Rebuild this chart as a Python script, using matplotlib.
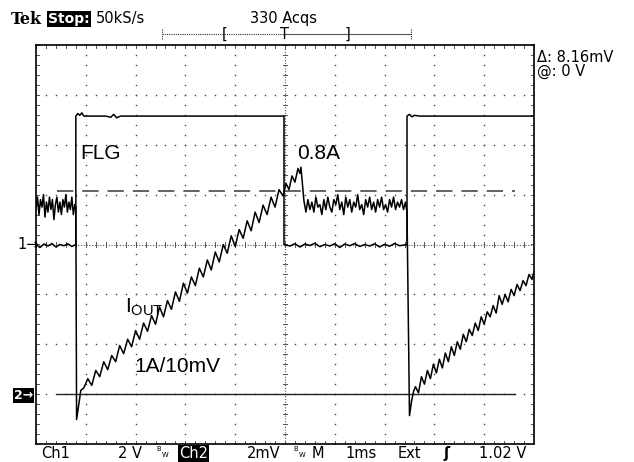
import numpy as np
import matplotlib.pyplot as plt

# time in ms from left edge of screen (1 ms/div)
# Ch1 : FLG voltage (V), 2 V/div, ground at centre line
flg_t = [0.0, 0.08, 0.16, 0.24, 0.32, 0.40, 0.48, 0.56, 0.64, 0.72, 0.80,
         0.80, 0.84, 0.88, 0.92, 0.96, 1.00, 1.10, 1.40, 1.50, 1.56, 1.62, 1.70, 4.98,
         4.98, 5.10, 5.20, 5.30, 5.40, 5.50, 5.60, 5.70, 5.80, 5.90, 6.00, 6.10, 6.20,
         6.30, 6.40, 6.50, 6.60, 6.70, 6.80, 6.90, 7.00, 7.10, 7.20, 7.30, 7.45,
         7.45, 7.50, 7.55, 7.60, 7.70, 10.0]
flg_v = [0.0, -0.12, 0.02, -0.06, 0.04, -0.10, 0.0, -0.05, 0.03, -0.08, 0.0,
         5.15, 5.25, 5.18, 5.28, 5.15, 5.15, 5.15, 5.15, 5.10, 5.22, 5.08, 5.15, 5.15,
         0.0, -0.06, 0.03, -0.10, 0.02, -0.04, 0.05, -0.09, 0.0, -0.06, 0.03, -0.12, 0.02,
         -0.05, 0.04, -0.08, 0.0, -0.06, 0.03, -0.10, 0.01, -0.07, 0.04, -0.05, 0.0,
         5.15, 5.22, 5.12, 5.18, 5.15, 5.15]

# Ch2 : IOUT sense voltage (mV), 2 mV/div, ground 3 div below centre (1A/10mV)
iout_t = [0.00, 0.03, 0.06, 0.09, 0.12, 0.15, 0.18, 0.21, 0.24, 0.27, 0.30, 0.33,
          0.36, 0.39, 0.42, 0.45, 0.48, 0.51, 0.54, 0.57, 0.60, 0.63, 0.66, 0.69,
          0.72, 0.75, 0.78, 0.80, 0.815, 0.86, 0.90,
          0.96, 1.04, 1.12, 1.20, 1.28, 1.36, 1.44, 1.52, 1.60, 1.68, 1.76, 1.84,
          1.92, 2.00, 2.08, 2.16, 2.24, 2.32, 2.40, 2.48, 2.56, 2.64, 2.72, 2.80,
          2.88, 2.96, 3.04, 3.12, 3.20, 3.28, 3.36, 3.44, 3.52, 3.60, 3.68, 3.76,
          3.84, 3.92, 4.00, 4.08, 4.16, 4.24, 4.32, 4.40, 4.48, 4.56, 4.64, 4.72,
          4.80, 4.88, 4.96,
          5.02, 5.08, 5.14, 5.20, 5.26, 5.30, 5.32, 5.35, 5.38, 5.42,
          5.46, 5.50, 5.54, 5.58, 5.62, 5.66, 5.70, 5.74, 5.78, 5.82, 5.86, 5.90,
          5.94, 5.98, 6.02, 6.06, 6.10, 6.14, 6.18, 6.22, 6.26, 6.30, 6.34, 6.38,
          6.42, 6.46, 6.50, 6.54, 6.58, 6.62, 6.66, 6.70, 6.74, 6.78, 6.82, 6.86,
          6.90, 6.94, 6.98, 7.02, 7.06, 7.10, 7.14, 7.18, 7.22, 7.26, 7.30, 7.34,
          7.38, 7.42, 7.45,
          7.50, 7.54, 7.58,
          7.62, 7.68, 7.74, 7.80, 7.86, 7.92, 7.98, 8.04, 8.10, 8.16, 8.22, 8.28,
          8.34, 8.40, 8.46, 8.52, 8.58, 8.64, 8.70, 8.76, 8.82, 8.88, 8.94, 9.00,
          9.06, 9.12, 9.18, 9.24, 9.30, 9.36, 9.42, 9.48, 9.54, 9.60, 9.66, 9.72,
          9.78, 9.84, 9.90, 9.96, 10.0]
iout_mv = [7.4, 7.9, 7.2, 7.8, 7.5, 8.0, 7.1, 7.7, 7.3, 7.9, 7.4, 7.8,
           7.0, 7.6, 7.9, 7.3, 7.7, 7.2, 7.8, 7.5, 8.0, 7.3, 7.7, 7.4,
           7.9, 7.2, 7.6, 7.5, -1.02, -0.40, 0.15,
           0.25, 0.62, 0.35, 0.95, 0.70, 1.30, 0.98, 1.55, 1.30, 1.95, 1.62, 2.20,
           1.90, 2.55, 2.20, 2.85, 2.52, 3.15, 2.80, 3.50, 3.10, 3.75, 3.40, 4.10,
           3.72, 4.45, 4.05, 4.70, 4.35, 5.05, 4.70, 5.38, 4.98, 5.70, 5.30, 6.00,
           5.65, 6.35, 5.92, 6.60, 6.25, 6.95, 6.55, 7.30, 6.88, 7.58, 7.20, 7.90,
           7.50, 8.20, 7.95,
           8.45, 8.20, 8.75, 8.50, 9.05, 8.85, 9.10, 8.40, 7.75, 7.30,
           7.8, 7.4, 7.7, 7.3, 7.9, 7.5, 7.6, 7.2, 7.8, 7.4, 7.9, 7.5,
           7.3, 7.8, 7.6, 8.0, 7.4, 7.7, 7.2, 7.9, 7.5, 7.8, 7.3, 7.7,
           7.5, 8.0, 7.4, 7.6, 7.2, 7.8, 7.5, 7.9, 7.4, 7.7, 7.3, 7.8,
           7.5, 7.9, 7.4, 7.6, 7.3, 7.8, 7.5, 7.9, 7.4, 7.7, 7.5, 7.8,
           7.4, 7.7, 7.3,
           -0.86, -0.30, 0.10,
           0.30, 0.05, 0.70, 0.40, 0.95, 0.62, 1.20, 0.85, 1.40, 1.05, 1.65, 1.30,
           1.90, 1.55, 2.10, 1.80, 2.40, 2.10, 2.60, 2.35, 2.85, 2.55, 3.10, 2.80,
           3.30, 3.10, 3.55, 3.25, 3.95, 3.60, 4.00, 3.70, 4.20, 3.95, 4.40, 4.15,
           4.55, 4.35, 4.80, 4.60, 4.90]

# cursors on Ch2 (mV)
cursor_a = 0.0
cursor_b = 8.16
cursor_t = [0.42, 9.62]

ch1_vdiv = 2.0
ch2_vdiv = 2.0
ch2_offset = -3.0

W, H = 634, 462
fig = plt.figure(figsize=(W / 100, H / 100), dpi=100)
fig.patch.set_facecolor('white')
ax = fig.add_axes([36 / W, 1 - 444 / H, 498 / W, 399 / H])
ax.set_xlim(0, 10)
ax.set_ylim(-4, 4)
ax.set_xticks([])
ax.set_yticks([])
for s in ax.spines.values():
    s.set_linewidth(1.2)
    s.set_color('black')

# graticule dots
dot_steps = np.arange(0, 10.01, 0.2)
dot_steps_y = np.arange(-4, 4.01, 0.2)
for gx in range(1, 10):
    if gx == 5:
        continue
    ax.plot(np.full_like(dot_steps_y, gx), dot_steps_y, ls='none', marker='s',
            ms=1.0, mew=0, color='#444444')
for gy in range(-3, 4):
    if gy == 0:
        continue
    ax.plot(dot_steps, np.full_like(dot_steps, gy), ls='none', marker='s',
            ms=1.0, mew=0, color='#444444')
# centre cross with ticks
ax.plot([0, 10], [0, 0], ls=(0, (1, 1.5)), lw=0.8, color='#555555')
ax.plot([5, 5], [-4, 4], ls=(0, (1, 1.5)), lw=0.8, color='#555555')
for x in dot_steps:
    ax.plot([x, x], [-0.05, 0.05], lw=0.7, color='#555555')
    ax.plot([x, x], [-4, -3.93], lw=0.7, color='#555555')
    ax.plot([x, x], [4, 3.93], lw=0.7, color='#555555')
for y in dot_steps_y:
    ax.plot([4.95, 5.05], [y, y], lw=0.7, color='#555555')
    ax.plot([0, 0.06], [y, y], lw=0.7, color='#555555')
    ax.plot([10, 9.94], [y, y], lw=0.7, color='#555555')

# cursors
ax.plot(cursor_t, [cursor_a / ch2_vdiv + ch2_offset] * 2, color='#222222', lw=1.0)
ax.plot(cursor_t, [cursor_b / ch2_vdiv + ch2_offset] * 2, color='#555555', lw=1.3,
        ls=(0, (9, 5)))

# traces
ax.plot(flg_t, np.array(flg_v) / ch1_vdiv, color='black', lw=1.1)
ax.plot(iout_t, np.array(iout_mv) / ch2_vdiv + ch2_offset, color='black', lw=1.1)

# annotations on screen
ann = dict(family='Liberation Sans', fontsize=15, color='black')
ax.text(0.88, 1.72, 'FLG', **ann)
ax.text(5.24, 1.72, '0.8A', **ann)
ax.text(1.79, -1.36, r'$\mathregular{I_{OUT}}$', **ann)
ax.text(1.98, -2.55, '1A/10mV', **ann)


def px(x, y):
    return x / W, 1 - y / H


scope = dict(family='DejaVu Sans', fontsize=10.5, color='black')
fig.text(*px(11, 24), 'Tek', family='DejaVu Serif', fontsize=11.5, weight='bold')
fig.text(*px(48, 23), 'Stop:', color='white', family='DejaVu Sans', fontsize=10,
         weight='bold', bbox=dict(facecolor='black', edgecolor='none', pad=0.8))
fig.text(*px(96, 23), '50kS/s', **scope)
fig.text(*px(283, 23), '330 Acqs', ha='center', **scope)

# trigger position bar
fig.add_artist(plt.Line2D([162 / W, 285 / W], [1 - 34 / H] * 2, lw=0.8,
                          ls=(0, (1, 1)), color='#333333'))
fig.add_artist(plt.Line2D([285 / W, 411 / W], [1 - 34 / H] * 2, lw=0.8,
                          color='#555555'))
for xe in (162, 411):
    fig.add_artist(plt.Line2D([xe / W] * 2, [1 - 29 / H, 1 - 39 / H], lw=0.8,
                              ls=(0, (1, 1)), color='#333333'))
fig.text(*px(222, 39), '[', **scope)
fig.text(*px(285, 39), 'T', ha='center', **scope)
fig.text(*px(345, 39), ']', **scope)

fig.text(*px(537, 62), '\u0394: 8.16mV', **scope)
fig.text(*px(537, 76), '@: 0 V', **scope)

fig.text(*px(17, 249), '1\u2192', **scope)
fig.text(*px(14, 399), '2\u2192', color='white', family='DejaVu Sans', fontsize=9,
         weight='bold', bbox=dict(facecolor='black', edgecolor='none', pad=0.5))

# bottom status line
by = 458
fig.text(*px(41, by), 'Ch1', **scope)
fig.text(*px(142, by), '2 V', ha='right', **scope)
fig.text(*px(156, by - 2), r'$\mathregular{^B{}_W}$', fontsize=7, color='black')
fig.text(*px(179, by), 'Ch2', color='white', family='DejaVu Sans', fontsize=10.5,
         bbox=dict(facecolor='black', edgecolor='none', pad=0.8))
fig.text(*px(280, by), '2mV', ha='right', **scope)
fig.text(*px(293, by - 2), r'$\mathregular{^B{}_W}$', fontsize=7, color='black')
fig.text(*px(312, by), 'M', **scope)
fig.text(*px(377, by), '1ms', ha='right', **scope)
fig.text(*px(398, by), 'Ext', **scope)
fig.text(*px(443, by), '\u0283', weight='bold', **scope)
fig.text(*px(526, by), '1.02 V', ha='right', **scope)

fig.savefig('out.png', dpi=100, facecolor='white')
